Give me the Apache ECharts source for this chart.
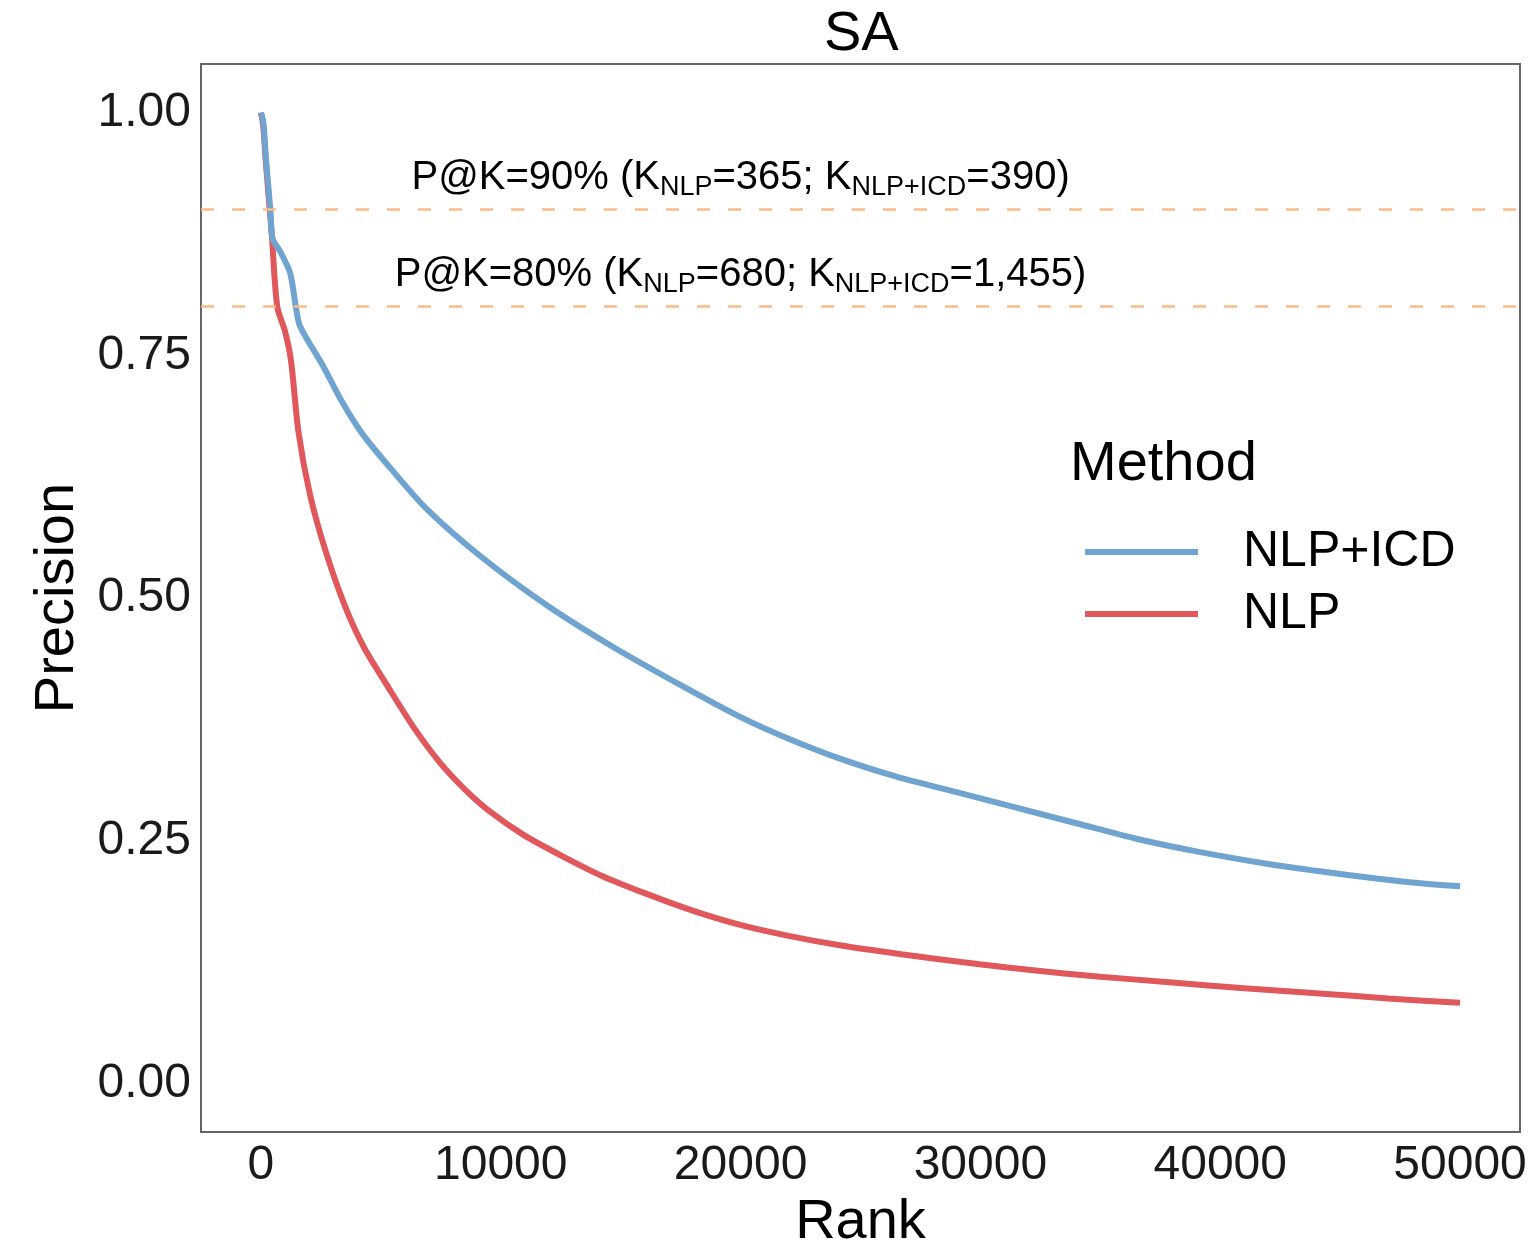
<!DOCTYPE html>
<html>
<head>
<meta charset="utf-8">
<script src="https://cdn.jsdelivr.net/npm/echarts@6/dist/echarts.min.js"></script>
<style>html,body{margin:0;padding:0;background:#fff;}#c{width:1537px;height:1246px;}</style>
</head>
<body>
<div id="c"></div>
<script>
// ---- data ----
const rankICD = [0,100,200,390,450,520,800,1212,1455,1630,2590,3430,4260,5390,6940,9155,11950,14720,17520,20025,22000,24200,26500,29000,31500,34000,36500,39000,42000,44000,46500,48000,50000];
const precICD = [1.0,0.99,0.955,0.90,0.875,0.868,0.857,0.835,0.80,0.78,0.739,0.700,0.668,0.634,0.591,0.543,0.492,0.449,0.410,0.377,0.355,0.334,0.316,0.300,0.284,0.268,0.252,0.239,0.226,0.219,0.211,0.207,0.203];
const rankNLP = [0,100,200,365,450,680,1000,1250,1570,2050,2700,3500,4300,5260,6390,7480,8500,9500,10950,12500,14200,16000,18000,20025,22000,24200,26700,29200,32000,35000,38000,41000,44000,47000,50000];
const precNLP = [1.0,0.985,0.95,0.90,0.875,0.80,0.775,0.745,0.67,0.606,0.548,0.492,0.449,0.410,0.366,0.330,0.303,0.281,0.256,0.235,0.214,0.196,0.178,0.163,0.152,0.142,0.133,0.125,0.117,0.110,0.104,0.098,0.093,0.0875,0.083];
const xTicks = [0,10000,20000,30000,40000,50000];
const yTicks = [0,0.25,0.5,0.75,1.0];
const pkLevels = [0.9, 0.8];
const pkLabels = ['90%','80%'];
const kNLP = ['365','680'];
const kICD = ['390','1,455'];
const labelX = 20000;
const labelOffset = 0.033;

const FONT = '"Liberation Sans", Arial, Helvetica, sans-serif';
const BLUE = '#6fa4d0';
const RED = '#e0575c';
const ORANGE = '#fdbb85';

const zip = (a,b) => a.map((v,i)=>[v,b[i]]);

const annData = pkLevels.map((lv,i)=>({
  value:[labelX, lv + labelOffset],
  txt: '{m|P@K=' + pkLabels[i] + ' (K}{s|NLP}{m|=' + kNLP[i] + '; K}{s|NLP+ICD}{m|=' + kICD[i] + ')}'
}));

const chart = echarts.init(document.getElementById('c'), null, {renderer:'canvas'});
chart.setOption({
  animation:false,
  backgroundColor:'#fff',
  textStyle:{fontFamily:FONT},
  title:[
    {text:'SA', left:819, top:2, textStyle:{fontFamily:FONT, fontSize:56, fontWeight:'normal', color:'#000'}},
    {text:'Method', left:1065, top:432, textStyle:{fontFamily:FONT, fontSize:56, fontWeight:'normal', color:'#000'}}
  ],
  grid:{left:201, right:17, top:64, bottom:114, show:true, borderColor:'#666', borderWidth:2, backgroundColor:'#fff', outerBoundsMode:'none', containLabel:false},
  legend:{
    data:['NLP+ICD','NLP'],
    orient:'vertical', left:1080, top:522,
    icon:'rect', itemWidth:113, itemHeight:6, itemGap:12,
    textStyle:{fontFamily:FONT, fontSize:50, color:'#000', lineHeight:50, padding:[0,0,0,40]}
  },
  xAxis:{
    type:'value', min:-2500, max:52500,
    name:'Rank', nameLocation:'middle', nameGap:52,
    nameTextStyle:{fontFamily:FONT, fontSize:56, color:'#000'},
    axisLine:{show:false}, axisTick:{show:false}, splitLine:{show:false},
    axisLabel:{customValues:xTicks, fontFamily:FONT, fontSize:48, color:'#1a1a1a', margin:10, formatter:v=>String(v)}
  },
  yAxis:{
    type:'value', min:-0.05, max:1.05,
    name:'Precision', nameLocation:'middle', nameGap:115, nameRotate:90,
    nameTextStyle:{fontFamily:FONT, fontSize:56, color:'#000'},
    axisLine:{show:false}, axisTick:{show:false}, splitLine:{show:false},
    axisLabel:{customValues:yTicks, fontFamily:FONT, fontSize:48, color:'#1a1a1a', margin:10, formatter:v=>v.toFixed(2)}
  },
  series:[
    {
      name:'NLP', type:'line', data:zip(rankNLP,precNLP), showSymbol:false, symbol:'none',
      smooth:0.3,
      lineStyle:{color:RED, width:6}, itemStyle:{color:RED}, z:3,
      markLine:{
        silent:true, symbol:'none', label:{show:false},
        lineStyle:{color:ORANGE, width:2.5, type:[13,18]},
        data:pkLevels.map(v=>({yAxis:v}))
      }
    },
    {
      name:'NLP+ICD', type:'line', data:zip(rankICD,precICD), showSymbol:false, symbol:'none',
      smooth:0.3,
      lineStyle:{color:BLUE, width:6}, itemStyle:{color:BLUE}, z:4
    },
    {
      name:'ann', type:'scatter', symbolSize:0, silent:true, z:5,
      itemStyle:{opacity:1},
      data:annData.map(d=>({value:d.value, txt:d.txt})),
      label:{
        show:true, position:'inside', align:'center', verticalAlign:'middle', opacity:1,
        formatter:p=>p.data.txt,
        rich:{
          m:{fontFamily:FONT, fontSize:40, color:'#000', lineHeight:46, verticalAlign:'middle'},
          s:{fontFamily:FONT, fontSize:27, color:'#000', lineHeight:27, verticalAlign:'bottom'}
        }
      }
    }
  ]
});
</script>
</body>
</html>
